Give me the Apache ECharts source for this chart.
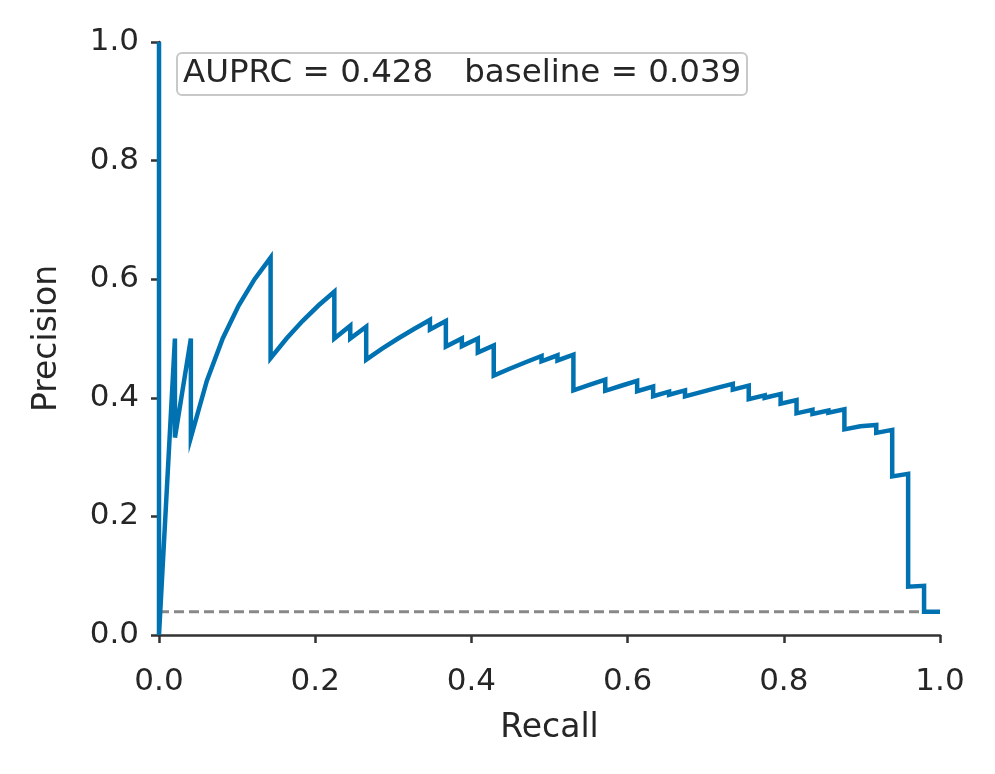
<!DOCTYPE html>
<html>
<head>
<meta charset="utf-8">
<script src="https://cdn.jsdelivr.net/npm/echarts@6/dist/echarts.min.js"></script>
<style>
html,body{margin:0;padding:0;background:#fff;}
#chart{width:995px;height:774px;}
</style>
</head>
<body>
<div id="chart"></div>
<script>
const recall = [0, 0, 0.0204, 0.0204, 0.0408, 0.0408, 0.0612, 0.0816, 0.1020, 0.1224, 0.1429, 0.1429, 0.1633, 0.1837, 0.2041, 0.2245, 0.2245, 0.2449, 0.2449, 0.2653, 0.2653, 0.2857, 0.3061, 0.3265, 0.3469, 0.3469, 0.3673, 0.3673, 0.3878, 0.3878, 0.4082, 0.4082, 0.4286, 0.4286, 0.4490, 0.4694, 0.4898, 0.4898, 0.5102, 0.5102, 0.5306, 0.5306, 0.5510, 0.5714, 0.5714, 0.5918, 0.6122, 0.6122, 0.6327, 0.6327, 0.6531, 0.6531, 0.6735, 0.6735, 0.6939, 0.7143, 0.7347, 0.7347, 0.7551, 0.7551, 0.7755, 0.7755, 0.7959, 0.7959, 0.8163, 0.8163, 0.8367, 0.8367, 0.8571, 0.8571, 0.8776, 0.8776, 0.8980, 0.8980, 0.9184, 0.9184, 0.9388, 0.9388, 0.9592, 0.9592, 0.9796, 0.9796, 1.0];
const precision = [1.0, 0.0, 0.5, 0.333, 0.5, 0.333, 0.4286, 0.5, 0.5556, 0.6, 0.6364, 0.4667, 0.5, 0.5294, 0.5556, 0.5789, 0.5, 0.5217, 0.5, 0.52, 0.4643, 0.4828, 0.5, 0.5161, 0.5313, 0.5152, 0.5294, 0.4865, 0.5, 0.4872, 0.5, 0.4762, 0.4884, 0.4375, 0.449, 0.46, 0.4706, 0.4615, 0.4717, 0.463, 0.4727, 0.4127, 0.4219, 0.4308, 0.4118, 0.4203, 0.4286, 0.411, 0.4189, 0.4026, 0.4103, 0.4051, 0.4125, 0.4024, 0.4096, 0.4167, 0.4235, 0.4138, 0.4205, 0.3978, 0.4043, 0.4, 0.4063, 0.39, 0.396, 0.3738, 0.3796, 0.3727, 0.3784, 0.375, 0.3805, 0.3468, 0.352, 0.3492, 0.3543, 0.3409, 0.3459, 0.2674, 0.2717, 0.0815, 0.083, 0.039, 0.039];
const baselineX = [0, 1];
const baselineY = [0.039, 0.039];
const annotation = 'AUPRC = 0.428   baseline = 0.039';
const xName = 'Recall';
const yName = 'Precision';

const font = 'DejaVu Sans';
const chart = echarts.init(document.getElementById('chart'), null, {renderer: 'canvas'});
const axisCommon = {
  type: 'value', min: 0, max: 1, interval: 0.2,
  nameLocation: 'middle',
  nameTextStyle: {fontFamily: font, fontSize: 33, color: '#262626'},
  axisLine: {show: true, lineStyle: {color: '#333333', width: 2.5}},
  axisTick: {show: true, inside: false, length: 8, lineStyle: {color: '#333333', width: 2.5}},
  axisLabel: {fontFamily: font, fontSize: 31, color: '#262626', formatter: v => v.toFixed(1)},
  splitLine: {show: false}
};
chart.setOption({
  animation: false,
  backgroundColor: '#ffffff',
  grid: {left: 159, right: 55, top: 42, bottom: 139, containLabel: false},
  title: {
    text: annotation,
    left: 177, top: 53,
    padding: [4, 6],
    backgroundColor: '#ffffff',
    borderColor: '#c8c8c8', borderWidth: 2, borderRadius: 5,
    textStyle: {fontFamily: font, fontSize: 32.5, lineHeight: 34, fontWeight: 'normal', color: '#262626'}
  },
  xAxis: Object.assign({}, axisCommon, {name: xName, nameGap: 77,
    axisLabel: Object.assign({}, axisCommon.axisLabel, {margin: 31})}),
  yAxis: Object.assign({}, axisCommon, {name: yName, nameGap: 95,
    axisLabel: Object.assign({}, axisCommon.axisLabel, {margin: 20})}),
  series: [
    {
      type: 'line', symbol: 'none', z: 3,
      data: recall.map((r, i) => [r, precision[i]]),
      lineStyle: {color: '#0072B2', width: 4.5, join: 'miter'}
    },
    {
      type: 'line', symbol: 'none', z: 2,
      data: baselineX.map((x, i) => [x, baselineY[i]]),
      lineStyle: {color: '#888888', width: 3, type: [10, 5]}
    }
  ]
});
</script>
</body>
</html>
